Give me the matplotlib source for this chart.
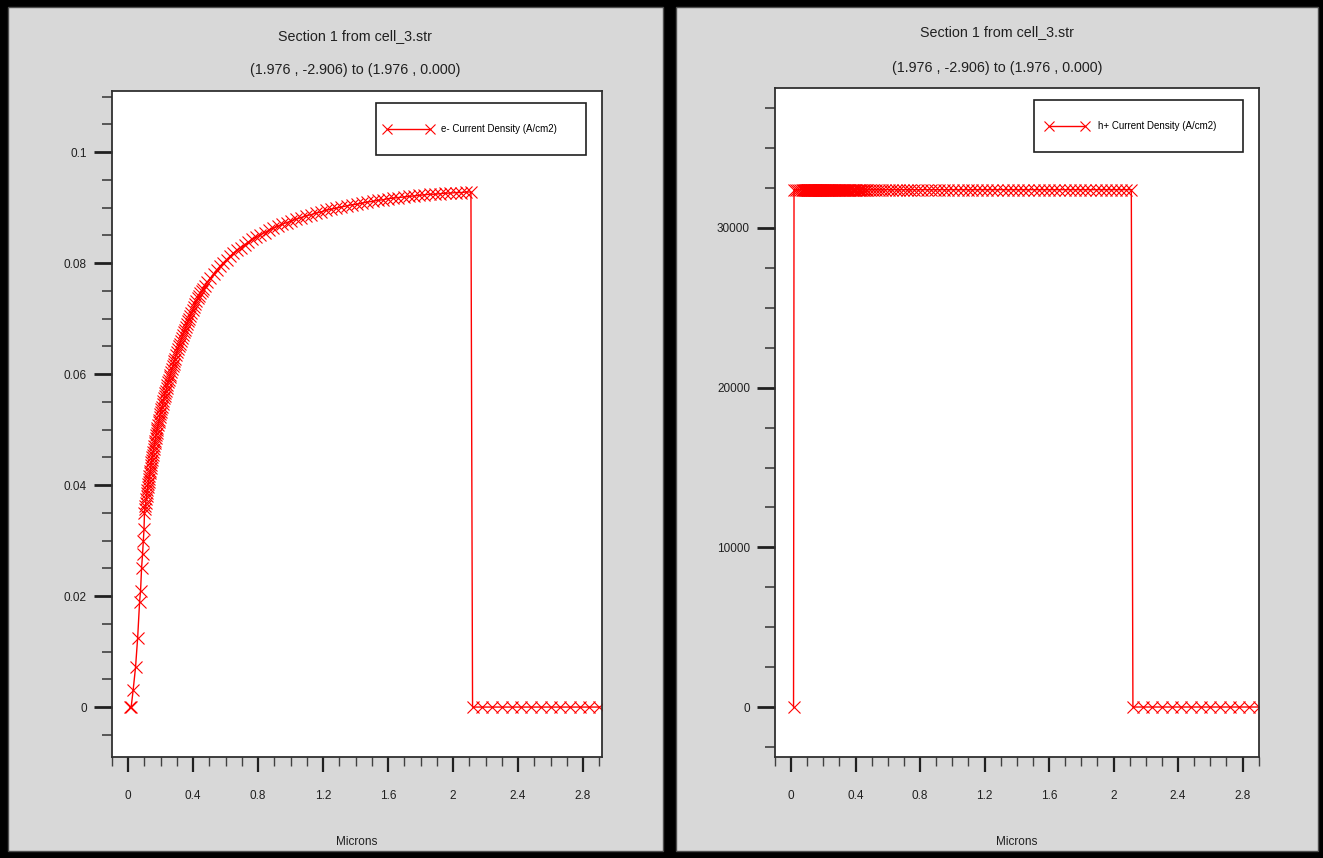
import matplotlib
matplotlib.use('Agg')
import matplotlib.pyplot as plt
from matplotlib.patches import Rectangle

W, H = 1323, 858

# Mesh positions along the cut line (microns) and electron current density (A/cm2)
e_x = [0.010, 0.018, 0.030, 0.045, 0.058, 0.070, 0.076, 0.082, 0.088, 0.093, 0.097,
       0.1000, 0.1025, 0.1050, 0.1075, 0.1100, 0.1125, 0.1150, 0.1175, 0.1200, 0.1225,
       0.1250, 0.1275, 0.1300, 0.1325, 0.1350, 0.1375, 0.1400, 0.1425, 0.1450, 0.1475,
       0.1500, 0.1530, 0.1560, 0.1590, 0.1620, 0.1650, 0.1680, 0.1710, 0.1740, 0.1770,
       0.1800, 0.1835, 0.1870, 0.1905, 0.1940, 0.1975, 0.2010, 0.2045, 0.2080, 0.2120,
       0.2160, 0.2200, 0.2240, 0.2280, 0.2320, 0.2365, 0.2410, 0.2455, 0.2500, 0.2545,
       0.2590, 0.2640, 0.2690, 0.2740, 0.2790, 0.2840, 0.2890, 0.2945, 0.3000, 0.3055,
       0.3110, 0.3170, 0.3230, 0.3290, 0.3350, 0.3415, 0.3480, 0.3545, 0.3610, 0.3680,
       0.3750, 0.3820, 0.3890, 0.3965, 0.4040, 0.4120, 0.4200, 0.4280, 0.4360, 0.4445,
       0.4530, 0.4615, 0.4700,
       0.488, 0.506, 0.525, 0.544, 0.564, 0.584, 0.605, 0.626, 0.648, 0.670, 0.693,
       0.716, 0.740, 0.764, 0.789, 0.814, 0.840, 0.866, 0.893, 0.920, 0.948, 0.976,
       1.005, 1.034, 1.064, 1.094, 1.124, 1.155, 1.186, 1.217, 1.248, 1.280, 1.312,
       1.344, 1.376, 1.408, 1.440, 1.472, 1.504, 1.536, 1.568, 1.600, 1.632, 1.664,
       1.696, 1.728, 1.760, 1.792, 1.824, 1.856, 1.888, 1.920, 1.952, 1.984, 2.016,
       2.048, 2.080, 2.110,
       2.120, 2.180, 2.240, 2.300, 2.360, 2.420, 2.480, 2.540, 2.600, 2.660, 2.720,
       2.780, 2.840, 2.900]
e_j = [0.0000, 0.0000, 0.0030, 0.0072, 0.0125, 0.0190, 0.0210, 0.0250, 0.0275, 0.0300, 0.0320,
       0.0350, 0.0356, 0.0362, 0.0368, 0.0374, 0.0380, 0.0385, 0.0391, 0.0396, 0.0401,
       0.0406, 0.0411, 0.0416, 0.0421, 0.0426, 0.0431, 0.0436, 0.0441, 0.0446, 0.0451,
       0.0455, 0.0460, 0.0465, 0.0470, 0.0475, 0.0480, 0.0485, 0.0490, 0.0494, 0.0499,
       0.0503, 0.0508, 0.0513, 0.0518, 0.0523, 0.0528, 0.0532, 0.0537, 0.0541, 0.0546,
       0.0551, 0.0556, 0.0561, 0.0566, 0.0570, 0.0575, 0.0580, 0.0585, 0.0590, 0.0595,
       0.0599, 0.0604, 0.0609, 0.0614, 0.0619, 0.0624, 0.0628, 0.0634, 0.0640, 0.0645,
       0.0650, 0.0655, 0.0660, 0.0665, 0.0670, 0.0675, 0.0680, 0.0685, 0.0690, 0.0695,
       0.0700, 0.0705, 0.0710, 0.0715, 0.0720, 0.0726, 0.0732, 0.0737, 0.0741, 0.0746,
       0.0750, 0.0754, 0.0758,
       0.0766, 0.0773, 0.0780, 0.0787, 0.0794, 0.0800, 0.0806, 0.0812, 0.0818, 0.0823, 0.0828,
       0.0833, 0.0838, 0.0843, 0.0847, 0.0851, 0.0855, 0.0859, 0.0863, 0.0866, 0.0870, 0.0873,
       0.0876, 0.0879, 0.0882, 0.0885, 0.0887, 0.0890, 0.0892, 0.0895, 0.0897, 0.0899, 0.0901,
       0.0903, 0.0905, 0.0906, 0.0908, 0.0910, 0.0911, 0.0913, 0.0914, 0.0916, 0.0917, 0.0918,
       0.0919, 0.0920, 0.0921, 0.0922, 0.0923, 0.0924, 0.0924, 0.0925, 0.0926, 0.0926, 0.0927,
       0.0927, 0.0928, 0.0928,
       0.0, 0.0, 0.0, 0.0, 0.0, 0.0, 0.0, 0.0, 0.0, 0.0, 0.0,
       0.0, 0.0, 0.0]

# Hole current density: zero at the surface point, flat plateau, zero past the junction
h_x = [0.015] + e_x[1:]
h_plateau = 32400
n_top = e_x.index(2.110)
h_j = [0.0] + [h_plateau] * n_top + [0.0] * (len(e_x) - n_top - 1)

x_ticks = [0, 0.4, 0.8, 1.2, 1.6, 2.0, 2.4, 2.8]
x_labels = ['0', '0.4', '0.8', '1.2', '1.6', '2', '2.4', '2.8']
e_yticks = [0, 0.02, 0.04, 0.06, 0.08, 0.1]
e_ylabels = ['0', '0.02', '0.04', '0.06', '0.08', '0.1']
h_yticks = [0, 10000, 20000, 30000]
h_ylabels = ['0', '10000', '20000', '30000']

title1 = 'Section 1 from cell_3.str'
title2 = '(1.976 , -2.906) to (1.976 , 0.000)'

plt.rcParams['font.family'] = ['Liberation Sans', 'DejaVu Sans']
RED = '#ff0000'
GRAY = '#d8d8d8'
INK = '#202020'


def fbox(x0, y0, x1, y1):
    # pixel box (top-left origin) -> figure fraction rect
    return [x0 / W, 1 - y1 / H, (x1 - x0) / W, (y1 - y0) / H]


fig = plt.figure(figsize=(W / 100, H / 100), dpi=100, facecolor='black')
for r in (fbox(8, 7, 663, 851), fbox(676, 7, 1318, 851)):
    fig.add_artist(Rectangle((r[0], r[1]), r[2], r[3], transform=fig.transFigure,
                             facecolor=GRAY, edgecolor='#505050', lw=1, zorder=-5))


def panel(rect, xs, ys, xlim, ylim, yticks, ylabels, yminor, label, legbox,
          leg_at, hlen, tpad, tcx, ty):
    ax = fig.add_axes(fbox(*rect))
    ax.set_facecolor('white')
    ax.plot(xs, ys, color=RED, lw=1.0, marker='x', ms=9, mew=0.8, label=label)
    ax.set_xlim(*xlim)
    ax.set_ylim(*ylim)
    ax.set_xticks(x_ticks)
    ax.set_xticklabels(x_labels)
    ax.set_xticks([i / 10 for i in range(-1, 30)], minor=True)
    ax.set_yticks(yticks)
    ax.set_yticklabels(ylabels)
    ax.set_yticks(yminor, minor=True)
    for s in ax.spines.values():
        s.set_color('#303030')
        s.set_linewidth(1.3)
    ax.tick_params(axis='x', which='major', direction='out', length=11, width=1.6,
                   pad=13, labelsize=8.5, colors=INK)
    ax.tick_params(axis='x', which='minor', direction='out', length=6.5, width=1.0,
                   color='#404040')
    ax.tick_params(axis='y', which='major', direction='out', length=13, width=2.0,
                   pad=5, labelsize=8.5, colors=INK)
    ax.tick_params(axis='y', which='minor', direction='out', length=7, width=1.2,
                   color='#404040')
    ax.set_xlabel('Microns', fontsize=8.5, labelpad=24, color=INK)

    lb = fbox(*legbox)
    ax.add_patch(Rectangle((lb[0], lb[1]), lb[2], lb[3], transform=fig.transFigure,
                           facecolor='white', edgecolor=INK, lw=1.2,
                           clip_on=False, zorder=4))
    leg = ax.legend(loc='center left', bbox_to_anchor=(leg_at[0] / W, 1 - leg_at[1] / H),
                    bbox_transform=fig.transFigure, frameon=False, numpoints=2,
                    handlelength=hlen, handletextpad=tpad, borderpad=0,
                    borderaxespad=0, fontsize=7, markerscale=0.85)
    leg.set_zorder(5)

    fig.text(tcx / W, 1 - ty[0] / H, title1, ha='center', va='center',
             fontsize=10.3, color=INK)
    fig.text(tcx / W, 1 - ty[1] / H, title2, ha='center', va='center',
             fontsize=10.3, color=INK)
    return ax


panel((112, 91, 602, 757), e_x, e_j, (-0.0985, 2.917), (-0.0090, 0.1110),
      e_yticks, e_ylabels, [i * 0.005 for i in range(-1, 23)],
      'e- Current Density (A/cm2)', (376, 103, 586, 155), (384, 129), 5.0, 0.9,
      355, (36, 70))

panel((775, 88, 1259, 757), h_x, h_j, (-0.0992, 2.902), (-3131, 38768),
      h_yticks, h_ylabels, [i * 2500 for i in range(-1, 16)],
      'h+ Current Density (A/cm2)', (1034, 100, 1243, 152), (1046, 126), 4.3, 1.1,
      997, (32, 68))

fig.savefig('out.png', dpi=100, facecolor=fig.get_facecolor())
